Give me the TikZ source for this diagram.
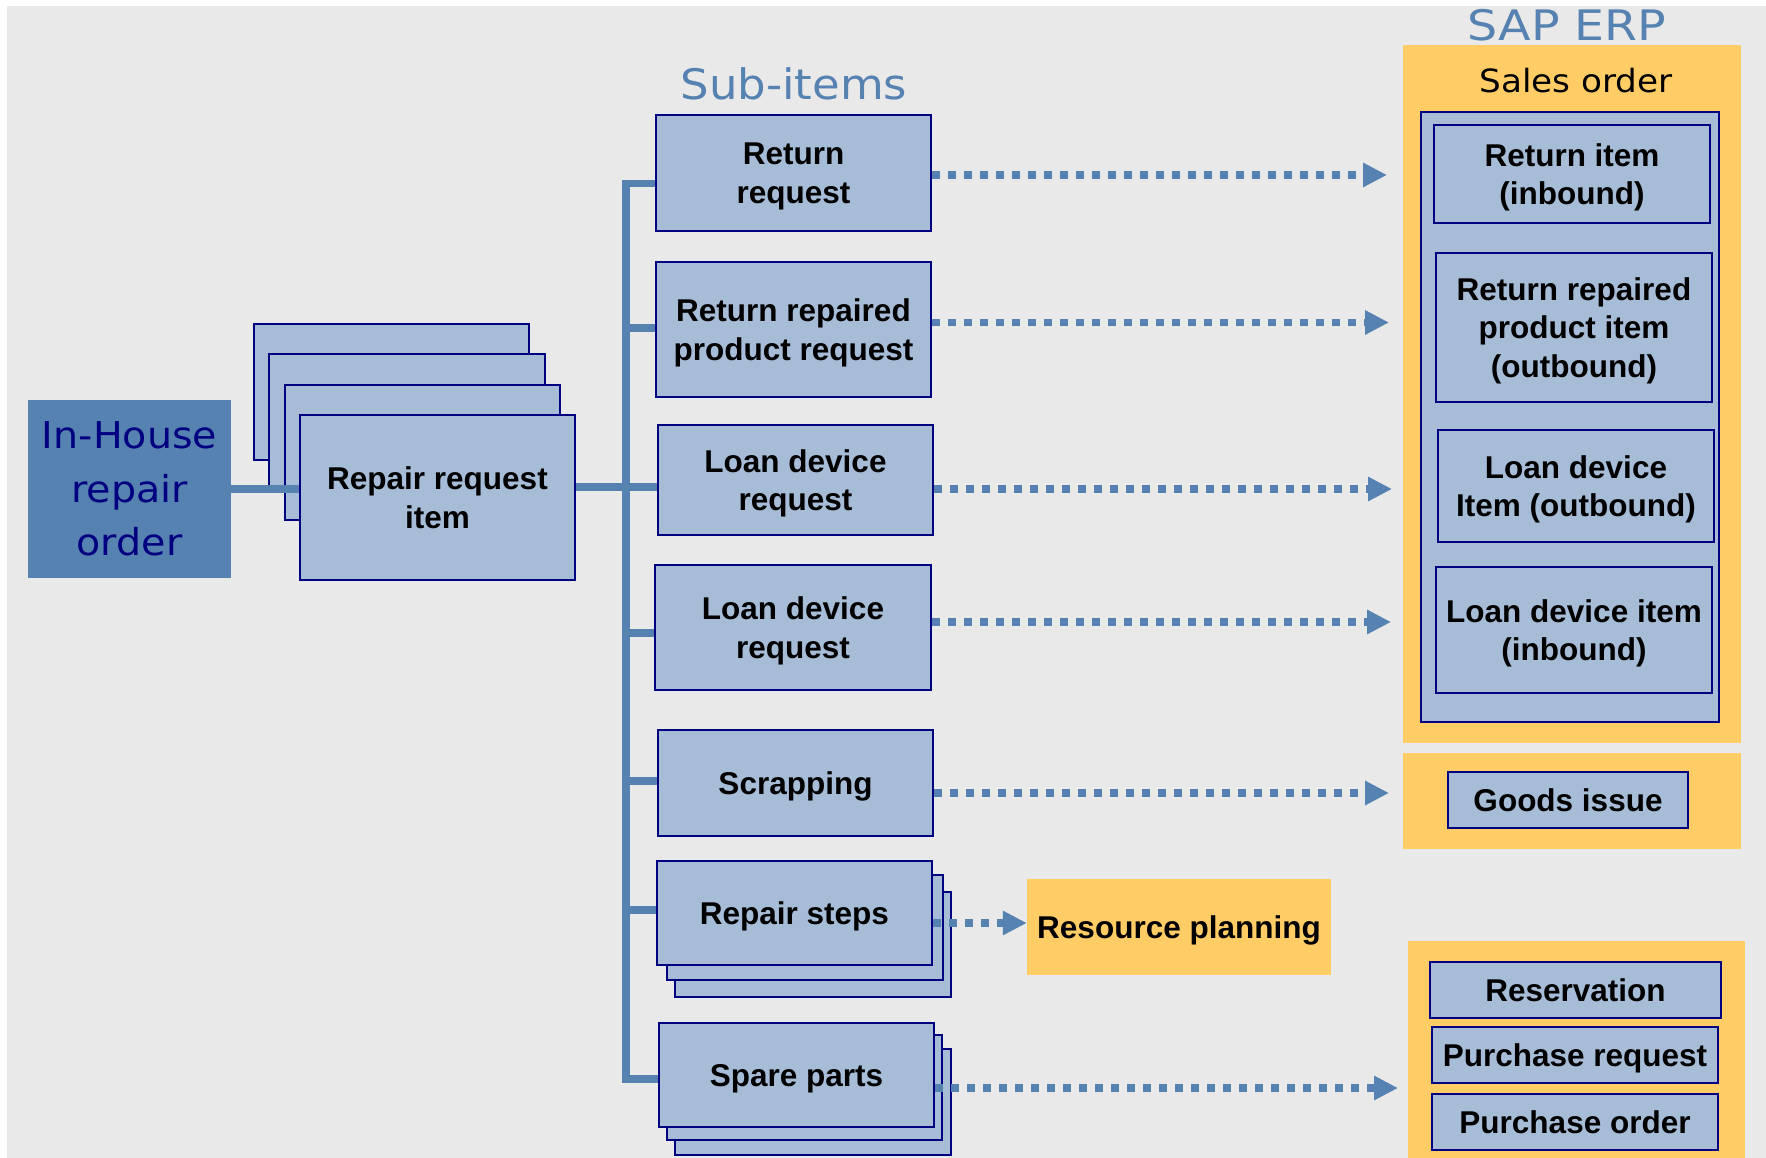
\documentclass[tikz,border=0pt]{standalone}
\usepackage{fontspec}
\setmainfont{Liberation Sans}
\newfontfamily\lightfont{DejaVu Sans}[FakeStretch=1.07]
\newfontfamily\widelightfont{DejaVu Sans}[FakeStretch=1.13]
\usetikzlibrary{arrows.meta}

\definecolor{bggrey}{RGB}{233,233,233}
\definecolor{boxblue}{RGB}{167,189,215}
\definecolor{navyline}{RGB}{0,0,128}
\definecolor{steel}{RGB}{86,130,177}
\definecolor{orangefill}{RGB}{255,204,102}

\newcommand\itemfont{\bfseries\fontsize{31.5}{38.5}\selectfont}

\begin{document}
\begin{tikzpicture}[x=1pt,y=-1pt,
  itembox/.style={draw=navyline, line width=2.2pt, fill=boxblue, inner sep=0pt,
                  align=center, font=\itemfont, text depth=0pt},
  zone/.style={fill=orangefill, inner sep=0pt, text depth=0pt},
  bus/.style={draw=steel, line width=7.5pt},
  flow/.style={draw=steel, line width=7.5pt, dash pattern=on 7.7pt off 8.3pt,
               -{Triangle[length=24pt,width=23pt]}},
  title/.style={anchor=base, inner sep=0pt, text=steel}]

% page and background
\fill[white] (0,0) rectangle (1766,1158);
\useasboundingbox (0,0) rectangle (1766,1158);
\fill[bggrey] (7,6) rectangle (1766,1158);

% order header
\node[fill=steel, minimum width=203, minimum height=178, inner sep=0pt, align=center,
      text=navyline, font=\lightfont\fontsize{37}{53.5}\selectfont]
      (inhouse) at (129.5,489) {In-House\\repair\\order};

% stack of repair request items
\node[itembox, minimum width=275, minimum height=136] (rq1) at (391.5,392) {};
\node[itembox, minimum width=276, minimum height=136] (rq2) at (407,422) {};
\node[itembox, minimum width=275, minimum height=135] (rq3) at (422.5,452.5) {};
\node[itembox, minimum width=275, minimum height=165] (rq) at (437.5,497.5) {Repair request\\item};

% sub-items
\node[title, font=\lightfont\fontsize{42}{48}\selectfont] (subitems) at (794,100) {Sub-items};
\node[itembox, minimum width=275, minimum height=116] (m1) at (793.5,173) {Return\\request};
\node[itembox, minimum width=275, minimum height=135] (m2) at (793.5,329.5) {Return repaired\\product request};
\node[itembox, minimum width=275, minimum height=110] (m3) at (795.5,480) {Loan device\\request};
\node[itembox, minimum width=276, minimum height=125] (m4) at (793,627.5) {Loan device\\request};
\node[itembox, minimum width=275, minimum height=106] (m5) at (795.5,783) {Scrapping};
\node[itembox, minimum width=276, minimum height=105] (m6c) at (813,944.5) {};
\node[itembox, minimum width=276, minimum height=105] (m6b) at (805,927.5) {};
\node[itembox, minimum width=275, minimum height=104] (m6) at (794.5,913) {Repair steps};
\node[itembox, minimum width=276, minimum height=106] (m7c) at (813,1102) {};
\node[itembox, minimum width=275, minimum height=105] (m7b) at (804.5,1087.5) {};
\node[itembox, minimum width=275, minimum height=104] (m7) at (796.5,1075) {Spare parts};

% resource planning
\node[zone, minimum width=304, minimum height=96, font=\itemfont] (rp) at (1179,927) {Resource planning};

% SAP ERP side
\node[title, font=\widelightfont\fontsize{42}{48}\selectfont] (erp) at (1567,40.5) {SAP ERP};
\node[zone, minimum width=338, minimum height=698] (sales) at (1572,394) {};
\node[title, text=black, font=\lightfont\fontsize{32}{36}\selectfont] (salestitle) at (1576,93) {Sales order};
\node[itembox, minimum width=298, minimum height=610] (salesitems) at (1570,417) {};
\node[itembox, minimum width=276, minimum height=98] (s1) at (1572,174) {Return item\\(inbound)};
\node[itembox, minimum width=276, minimum height=149] (s2) at (1574,327.5) {Return repaired\\product item\\(outbound)};
\node[itembox, minimum width=276, minimum height=112] (s3) at (1576,486) {Loan device\\Item (outbound)};
\node[itembox, minimum width=276, minimum height=126] (s4) at (1574,630) {Loan device item\\(inbound)};

\node[zone, minimum width=338, minimum height=96] (gizone) at (1572,801) {};
\node[itembox, minimum width=240, minimum height=56] (gi) at (1568,800) {Goods issue};

\node[zone, minimum width=337, minimum height=217] (proczone) at (1576.5,1049.5) {};
\node[itembox, minimum width=291, minimum height=56] (p1) at (1575.5,990) {Reservation};
\node[itembox, minimum width=286, minimum height=56] (p2) at (1575,1055) {Purchase request};
\node[itembox, minimum width=286, minimum height=56] (p3) at (1575,1122) {Purchase order};

% tree connectors
\coordinate (b1) at (626,183.5);
\coordinate (b2) at (626,328);
\coordinate (b3) at (626,487);
\coordinate (b4) at (626,633);
\coordinate (b5) at (626,781);
\coordinate (b6) at (626,910);
\coordinate (b7) at (626,1079);
\draw[bus] (inhouse.east) -- (inhouse.east -| rq.west);
\draw[bus, line join=miter] (m1.west |- b1) -- (b1) -- (b7) -- (m7.west |- b7);
\draw[bus] (rq.east |- b3) -- (m3.west |- b3);
\draw[bus] (b2) -- (m2.west |- b2);
\draw[bus] (b4) -- (m4.west |- b4);
\draw[bus] (b5) -- (m5.west |- b5);
\draw[bus] (b6) -- (m6.west |- b6);

% document flow arrows
\coordinate (t1) at (1387,175);
\coordinate (t2) at (1389,322.5);
\coordinate (t3) at (1392,489);
\coordinate (t4) at (1391,622);
\coordinate (t5) at (1389,793);
\coordinate (t6) at (1027,923);
\coordinate (t7) at (1398,1088);
\draw[flow] (m1.east |- t1) -- (t1);
\draw[flow] (m2.east |- t2) -- (t2);
\draw[flow] (m3.east |- t3) -- (t3);
\draw[flow] (m4.east |- t4) -- (t4);
\draw[flow] (m5.east |- t5) -- (t5);
\draw[flow] (m6.east |- t6) -- (rp.west |- t6);
\draw[flow] (m7.east |- t7) -- (t7);
\end{tikzpicture}
\end{document}
